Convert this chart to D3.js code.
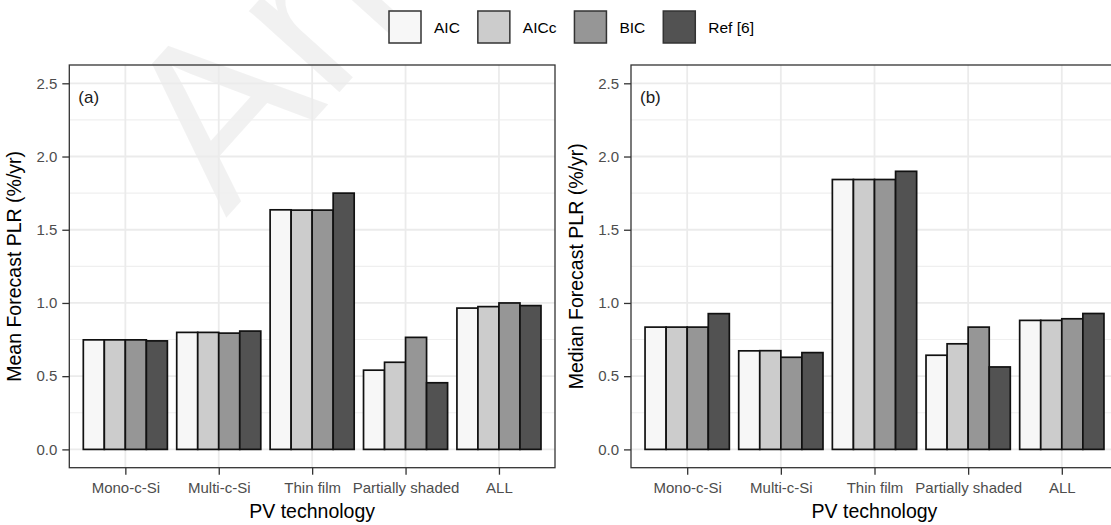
<!DOCTYPE html>
<html>
<head>
<meta charset="utf-8">
<script src="https://cdn.jsdelivr.net/npm/d3@7"></script>
<style>
  html, body { margin: 0; padding: 0; background: #ffffff; }
  svg { display: block; font-family: "Liberation Sans", Arial, sans-serif; }
</style>
</head>
<body>
<svg id="chart" width="1111" height="525"></svg>
<script>
// PV technologies on the x axis
const categories = ["Mono-c-Si", "Multi-c-Si", "Thin film", "Partially shaded", "ALL"];
// model-selection criteria (fill legend)
const seriesNames = ["AIC", "AICc", "BIC", "Ref [6]"];

// (a) mean forecast PLR (%/yr)
const meanAIC  = [0.748, 0.799, 1.636, 0.541, 0.965];
const meanAICc = [0.748, 0.799, 1.634, 0.595, 0.975];
const meanBIC  = [0.748, 0.794, 1.634, 0.765, 1.000];
const meanRef  = [0.741, 0.808, 1.750, 0.455, 0.982];

// (b) median forecast PLR (%/yr)
const medianAIC  = [0.835, 0.673, 1.843, 0.643, 0.881];
const medianAICc = [0.835, 0.674, 1.843, 0.721, 0.881];
const medianBIC  = [0.835, 0.629, 1.843, 0.835, 0.892];
const medianRef  = [0.927, 0.661, 1.899, 0.563, 0.928];

const yTicks = [0, 0.5, 1.0, 1.5, 2.0, 2.5];
const yMinor = [0.25, 0.75, 1.25, 1.75, 2.25];
const fills = ["#f7f7f7", "#cccccc", "#969696", "#525252"];

const svg = d3.select("#chart");

const panelTop = 65, panelBottom = 467.7;
const y = d3.scaleLinear().domain([-0.125, 2.625]).range([panelBottom, panelTop]);
const fill = d3.scaleOrdinal().domain(seriesNames).range(fills);

// faint diagonal lettering behind the upper-left panel
svg.append("text")
  .attr("transform", "translate(226,218) rotate(-48)")
  .style("font-size", "230px")
  .attr("fill", "#000").attr("fill-opacity", 0.055)
  .text("An");

function drawPanel(x0, x1, series, tag, yTitle) {
  const g = svg.append("g");
  const x = d3.scalePoint().domain(categories).range([x0, x1]).padding(0.6);
  const step = x.step();
  const inner = d3.scaleBand().domain(seriesNames).range([-0.45 * step, 0.45 * step]);

  // grid
  const grid = g.append("g");
  grid.selectAll("line.minor").data(yMinor).join("line")
    .attr("x1", x0).attr("x2", x1)
    .attr("y1", d => y(d)).attr("y2", d => y(d))
    .attr("stroke", "#efefef").attr("stroke-width", 1.1);
  grid.selectAll("line.majy").data(yTicks).join("line")
    .attr("x1", x0).attr("x2", x1)
    .attr("y1", d => y(d)).attr("y2", d => y(d))
    .attr("stroke", "#ebebeb").attr("stroke-width", 1.8);
  grid.selectAll("line.majx").data(categories).join("line")
    .attr("x1", d => x(d)).attr("x2", d => x(d))
    .attr("y1", panelTop).attr("y2", panelBottom)
    .attr("stroke", "#ebebeb").attr("stroke-width", 1.8);

  // bars
  const rows = [];
  categories.forEach((c, i) => {
    seriesNames.forEach((s, j) => rows.push({ cat: c, ser: s, v: series[j][i] }));
  });
  g.append("g").selectAll("rect").data(rows).join("rect")
    .attr("x", d => x(d.cat) + inner(d.ser))
    .attr("width", inner.bandwidth())
    .attr("y", d => y(d.v))
    .attr("height", d => y(0) - y(d.v))
    .attr("fill", d => fill(d.ser))
    .attr("stroke", "#111111")
    .attr("stroke-width", 1.7);

  // panel border
  g.append("rect")
    .attr("x", x0).attr("y", panelTop)
    .attr("width", x1 - x0).attr("height", panelBottom - panelTop)
    .attr("fill", "none").attr("stroke", "#333333").attr("stroke-width", 1.3);

  // y axis
  const yAxis = d3.axisLeft(y).tickValues(yTicks).tickFormat(d3.format(".1f"))
    .tickSize(7).tickPadding(5);
  const ya = g.append("g").attr("transform", `translate(${x0},0)`).call(yAxis);
  ya.select(".domain").remove();
  ya.selectAll(".tick line").attr("stroke", "#333333").attr("stroke-width", 1.3);
  ya.selectAll(".tick text").attr("fill", "#4d4d4d")
    .style("font-size", "15px").style("font-family", "'Liberation Sans', Arial, sans-serif");

  // x axis
  const xAxis = d3.axisBottom(x).tickSize(7).tickPadding(8);
  const xa = g.append("g").attr("transform", `translate(0,${panelBottom})`).call(xAxis);
  xa.select(".domain").remove();
  xa.selectAll(".tick line").attr("stroke", "#333333").attr("stroke-width", 1.3);
  xa.selectAll(".tick text").attr("fill", "#4d4d4d")
    .style("font-size", "15px").style("font-family", "'Liberation Sans', Arial, sans-serif");

  // titles
  g.append("text")
    .attr("x", (x0 + x1) / 2).attr("y", 518)
    .attr("text-anchor", "middle")
    .style("font-size", "19.5px").attr("fill", "#000")
    .text("PV technology");
  g.append("text")
    .attr("transform", `translate(${x0 - 48},${(panelTop + panelBottom) / 2}) rotate(-90)`)
    .attr("text-anchor", "middle")
    .style("font-size", "19.5px").attr("fill", "#000")
    .text(yTitle);

  // panel tag
  g.append("text")
    .attr("x", x0 + 9).attr("y", 103)
    .style("font-size", "17px").attr("fill", "#1a1a1a")
    .text(tag);
}

drawPanel(69.3, 555, [meanAIC, meanAICc, meanBIC, meanRef], "(a)", "Mean Forecast PLR (%/yr)");
drawPanel(631, 1118, [medianAIC, medianAICc, medianBIC, medianRef], "(b)", "Median Forecast PLR (%/yr)");

// legend across the top
const legend = svg.append("g");
let lx = 389;
const keySize = 32, keyTop = 11;
seriesNames.forEach(s => {
  legend.append("rect")
    .attr("x", lx).attr("y", keyTop)
    .attr("width", keySize).attr("height", keySize)
    .attr("fill", fill(s)).attr("stroke", "#333333").attr("stroke-width", 1.5);
  const t = legend.append("text")
    .attr("x", lx + keySize + 13).attr("y", keyTop + keySize / 2 + 5.5)
    .style("font-size", "15.5px").attr("fill", "#000")
    .text(s);
  lx += keySize + 13 + t.node().getComputedTextLength() + 18;
});
</script>
</body>
</html>
